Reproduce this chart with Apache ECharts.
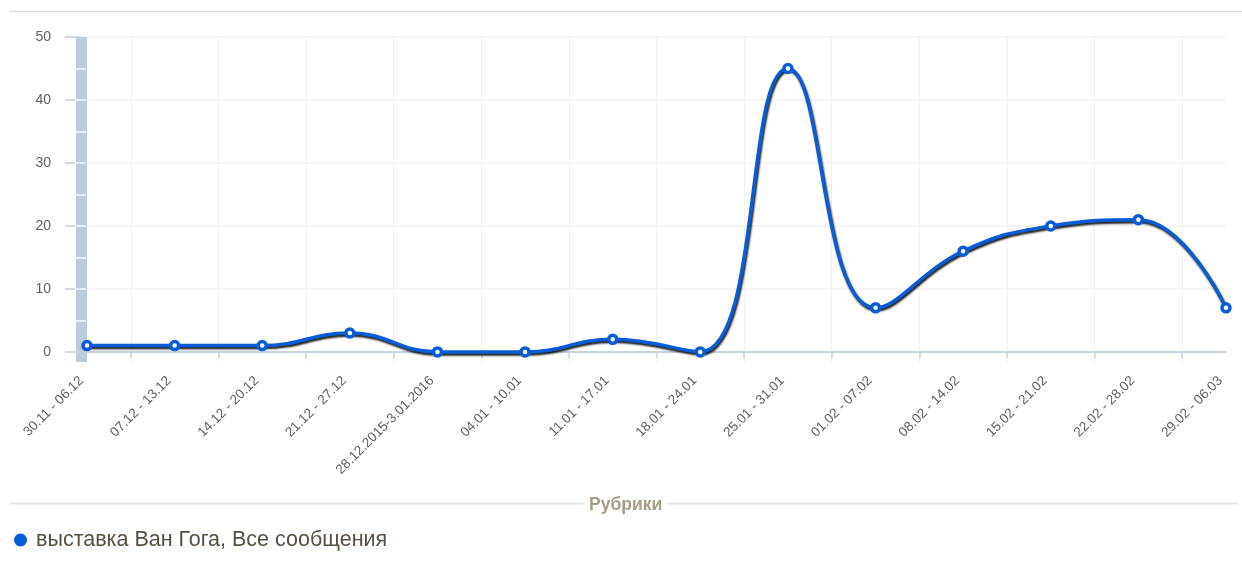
<!DOCTYPE html>
<html>
<head>
<meta charset="utf-8">
<script src="https://cdn.jsdelivr.net/npm/echarts@6/dist/echarts.min.js"></script>
<style>
html, body { margin: 0; padding: 0; background: #fff; }
#chart { width: 1242px; height: 571px; }
</style>
</head>
<body>
<div id="chart"></div>
<script>
// данные по неделям
var weeks = [
    '30.11 - 06.12', '07.12 - 13.12', '14.12 - 20.12', '21.12 - 27.12',
    '28.12.2015-3.01.2016', '04.01 - 10.01', '11.01 - 17.01', '18.01 - 24.01',
    '25.01 - 31.01', '01.02 - 07.02', '08.02 - 14.02', '15.02 - 21.02',
    '22.02 - 28.02', '29.02 - 06.03'
];
var messages = [1, 1, 1, 3, 0, 0, 2, 0, 45, 7, 16, 20, 21, 7];
var yTicks = [0, 10, 20, 30, 40, 50];
var barMarks = [5, 10, 15, 20, 25, 30, 35, 40, 45];
var seriesName = 'выставка Ван Гога, Все сообщения';

// полушаги между неделями - для сетки между точками
var halfSlots = [];
for (var i = 0; i < weeks.length * 2 - 1; i++) halfSlots.push('');
function isOdd(idx) { return idx % 2 === 1; }

var blue = '#0a5bd6';
var axisBlue = '#c3d1e0';

var option = {
    animation: false,
    textStyle: { fontFamily: 'Liberation Sans, Arial, sans-serif' },
    title: {
        text: 'Рубрики',
        left: 584,
        top: 491,
        textStyle: { fontSize: 17.5, fontWeight: 'bold', color: '#a69d86' }
    },
    legend: {
        data: [seriesName],
        left: 9,
        top: 524,
        icon: 'circle',
        itemWidth: 13,
        itemHeight: 13,
        itemStyle: { color: blue, borderWidth: 0 },
        textStyle: { fontSize: 21.5, color: '#584f42', padding: [0, 0, 0, 4] }
    },
    graphic: [
        { type: 'line', shape: { x1: 9, y1: 11.5, x2: 1242, y2: 11.5 }, style: { stroke: '#dcdcdc', lineWidth: 1.5 } },
        { type: 'line', shape: { x1: 10, y1: 503.5, x2: 585, y2: 503.5 }, style: { stroke: '#e6e6e6', lineWidth: 2 } },
        { type: 'line', shape: { x1: 667, y1: 503.5, x2: 1238, y2: 503.5 }, style: { stroke: '#e6e6e6', lineWidth: 2 } }
    ],
    grid: { left: 87, right: 16, top: 37, bottom: 209 },
    xAxis: [
        {
            type: 'category',
            data: weeks,
            boundaryGap: false,
            axisLine: { lineStyle: { color: axisBlue, width: 1.5 } },
            axisTick: { show: false },
            axisLabel: { rotate: 45, fontSize: 13.5, color: '#606060', margin: 11, interval: 0, padding: [0, 8, 0, 0] },
            splitLine: { show: false }
        },
        {
            type: 'category',
            data: halfSlots,
            boundaryGap: false,
            position: 'bottom',
            axisLine: { show: false },
            axisLabel: { show: false },
            axisTick: { show: true, interval: isOdd, length: 6, lineStyle: { color: axisBlue, width: 1.5 } },
            splitLine: { show: true, interval: isOdd, lineStyle: { color: '#eef1f5', width: 1 } }
        }
    ],
    yAxis: [
        {
            type: 'value',
            min: -1.6,
            max: 50,
            offset: 6,
            axisLine: { show: true, lineStyle: { color: '#bccbdb', width: 11, cap: 'butt' } },
            axisTick: { show: true, length: 16, customValues: yTicks, lineStyle: { color: axisBlue, width: 1.5 } },
            axisLabel: { customValues: yTicks, fontSize: 14, color: '#606060', margin: 30 },
            splitLine: {
                show: true,
                lineStyle: { color: [axisBlue, '#f2f2f2', '#f2f2f2', '#f2f2f2', '#f2f2f2', '#f2f2f2'], width: 1.5 }
            }
        },
        {
            // белые риски поверх полосы оси
            type: 'value',
            position: 'left',
            min: -1.6,
            max: 50,
            offset: 12,
            axisLine: { show: false },
            axisTick: { show: true, inside: true, length: 11, customValues: barMarks, lineStyle: { color: '#f4f7fa', width: 1.5 } },
            axisLabel: { show: false },
            splitLine: { show: false }
        }
    ],
    series: [
        {
            name: seriesName,
            type: 'line',
            data: messages,
            smooth: 0.45,
            symbol: 'circle',
            symbolSize: 8,
            showAllSymbol: true,
            color: blue,
            lineStyle: {
                color: blue,
                width: 3.5,
                shadowColor: 'rgba(0,0,0,0.9)',
                shadowBlur: 2,
                shadowOffsetX: 1,
                shadowOffsetY: 2
            },
            itemStyle: { color: '#fff', borderColor: blue, borderWidth: 3.5 }
        }
    ]
};

var myChart = echarts.init(document.getElementById('chart'));
myChart.setOption(option);
</script>
</body>
</html>
